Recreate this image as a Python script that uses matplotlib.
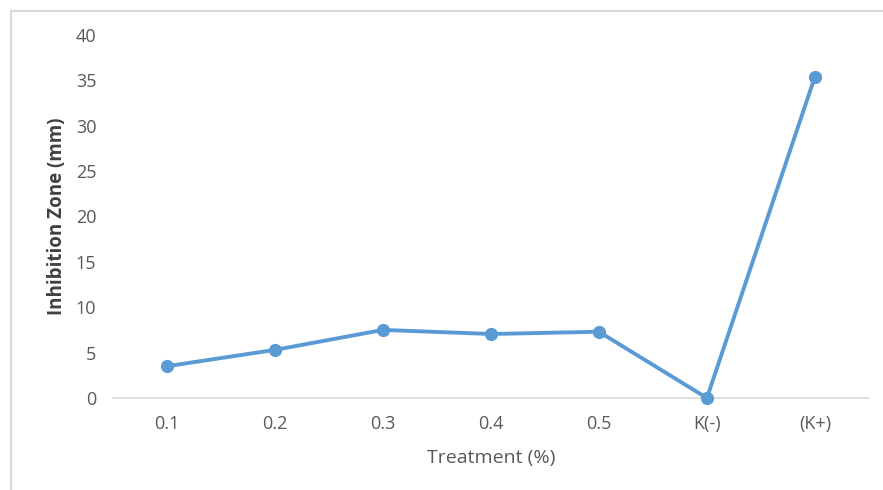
import matplotlib
matplotlib.use("Agg")
import matplotlib.pyplot as plt
from matplotlib.patches import Rectangle

treatments = ["0.1", "0.2", "0.3", "0.4", "0.5", "K(-)", "(K+)"]
inhibition = [3.5, 5.3, 7.5, 7.05, 7.3, 0.0, 35.4]

plt.rcParams['font.family'] = ['Open Sans', 'DejaVu Sans']

fig = plt.figure(figsize=(8.83, 4.9), dpi=100)
ax = fig.add_axes([0.128, 0.1878, 0.856, 0.7408])

# outer light grey frame like the spreadsheet chart box
fig.patches.append(Rectangle((11 / 883, -0.1), 1.2, 1 - 11 / 490 + 0.1,
                             transform=fig.transFigure, fill=False,
                             edgecolor='#d9d9d9', linewidth=1.5))

x = list(range(len(treatments)))
ax.plot(x, inhibition, color='#5b9bd5', linewidth=2.8, marker='o',
        markersize=8.5, solid_capstyle='round', clip_on=False, zorder=3)

ax.set_xlim(-0.5, len(treatments) - 0.5)
ax.set_ylim(0, 40)
ax.set_yticks(range(0, 41, 5))
ax.set_xticks(x)
ax.set_xticklabels(treatments)

for s in ['top', 'right', 'left']:
    ax.spines[s].set_visible(False)
ax.spines['bottom'].set_color('#d9d9d9')
ax.spines['bottom'].set_linewidth(1.2)
ax.tick_params(axis='both', length=0, labelsize=13, colors='#595959')
ax.tick_params(axis='y', pad=12)
ax.tick_params(axis='x', pad=12)

ax.set_xlabel('Treatment (%)', fontsize=14, color='#595959', labelpad=12)
ax.set_ylabel('Inhibition Zone (mm)', fontsize=13.5, color='#404040',
              fontweight='bold', labelpad=6)

fig.savefig('out.png', dpi=100)
